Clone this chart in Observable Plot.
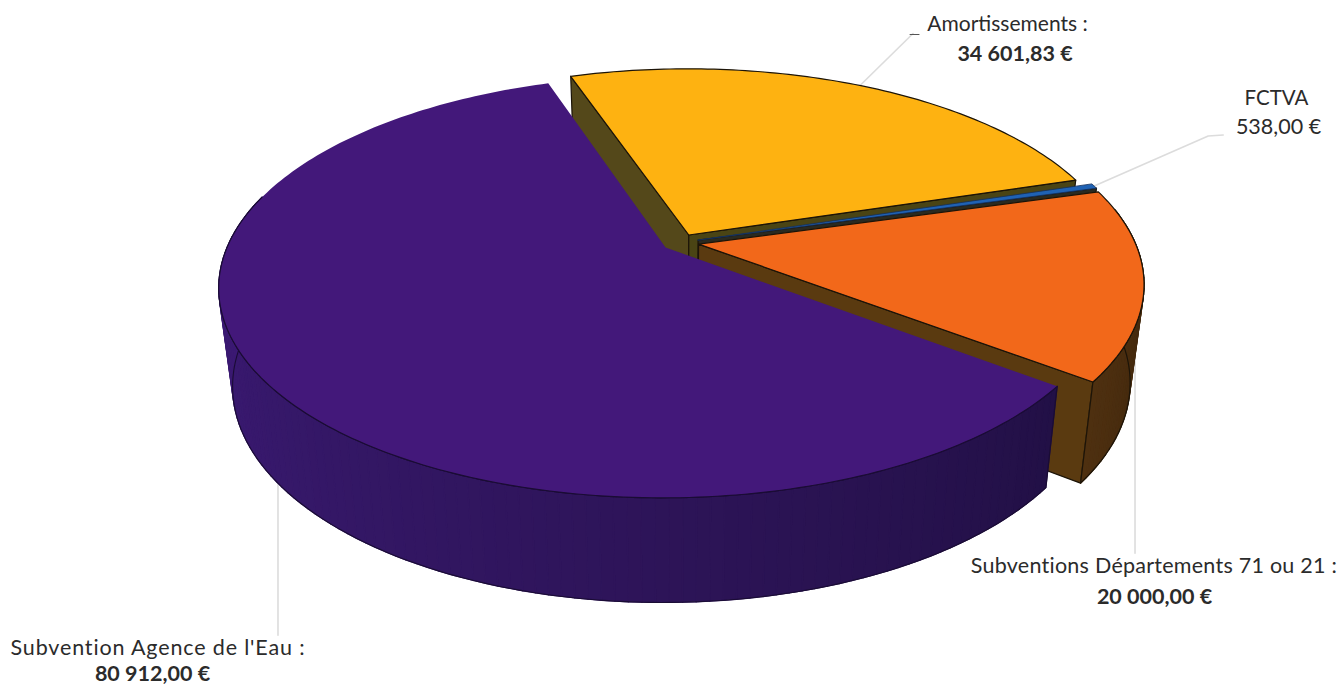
<!DOCTYPE html>
<html lang="fr">
<head>
<meta charset="utf-8">
<style>html,body{margin:0;padding:0;background:#fff}svg{display:block}</style>
<script src="https://cdn.jsdelivr.net/npm/d3@7"></script>
<script src="https://cdn.jsdelivr.net/npm/@observablehq/plot@0.6"></script>
</head>
<body>
<div id="chart"></div>
<script>
const categories = ["Amortissements", "FCTVA", "Subventions Départements 71 ou 21", "Subvention Agence de l'Eau"];
const values = [34601.83, 538.00, 20000.00, 80912.00];
const amounts = ["34 601,83 €", "538,00 €", "20 000,00 €", "80 912,00 €"];
const topColors = ["#feb211", "#1f62b4", "#f2681a", "#43187a"];

const W = 1343, H = 686;
// Perspective model of the tilted, exploded pie
const view = {cx: 680, cy: 242, a: 436.5, b: 202, k: 0.185, explode: 0.042, startDeg: -18.7,
  depthY: 97, depthB: 6, depthA: 0.97, radii: [0.985, 1, 1, 1]};
const rad = Math.PI / 180;
const total = d3.sum(values);
let acc = view.startDeg;
const slices = values.map((v, i) => {
  const start = acc, end = acc + v / total * 360; acc = end;
  const mid = (start + end) / 2 * rad;
  return {i, start, end, R: view.radii[i], eu: view.explode * Math.sin(mid), ev: -view.explode * Math.cos(mid)};
});
function P(s, deg, r, bottom) {
  const u = s.eu + r * s.R * Math.sin(deg * rad), v = s.ev - r * s.R * Math.cos(deg * rad);
  const p = 1 / (1 - view.k * v);
  return bottom
    ? {x: view.cx + view.a * view.depthA * u * p, y: view.cy + view.depthY + (view.b + view.depthB) * v * p}
    : {x: view.cx + view.a * u * p, y: view.cy + view.b * v * p};
}
function arc(s, a0, a1, bottom) {
  const n = Math.max(2, Math.ceil(Math.abs(a1 - a0) / 1));
  return d3.range(n + 1).map(j => P(s, a0 + (a1 - a0) * j / n, 1, bottom));
}
const topFace = s => [P(s, 0, 0), ...arc(s, s.start, s.end), P(s, 0, 0)];
const wall = (s, deg) => {
  const pts = [P(s, 0, 0), P(s, deg, 1), P(s, deg, 1, true), P(s, 0, 0, true)];
  return [...pts, pts[0]];
};
const outer = (s, a0, a1) => [...arc(s, a0, a1), ...arc(s, a1, a0, true), P(s, a0, 1)];
function shaded(s, a0, a1, stops) {
  const n = Math.ceil(Math.abs(a1 - a0) / 1.5), out = [], col = d3.piecewise(d3.interpolateRgb, stops);
  for (let j = 0; j < n; j++) {
    const p = a0 + (a1 - a0) * j / n, q = a0 + (a1 - a0) * (j + 1) / n;
    const color = col(j / (n - 1));
    [P(s, p, 1), P(s, q, 1), P(s, q, 1, true), P(s, p, 1, true), P(s, p, 1)]
      .forEach(pt => out.push({...pt, z: j, color}));
  }
  return out;
}
const scalesOpt = {x: "x", y: "y"};
const edge = "#1c1408";
const poly = (pts, fill, stroke = edge, strokeWidth = 1.2) =>
  Plot.line(pts, {...scalesOpt, fill, stroke, strokeWidth, curve: "linear", strokeLinejoin: "round"});
const strips = (pts) => Plot.line(pts, {...scalesOpt, z: "z", fill: "color", stroke: "color", strokeWidth: 1.3, curve: "linear"});

const [yel, fct, ora, pur] = slices;
const midDeg = s => (s.start + s.end) / 2;

// Leaders start on each slice's rim
const leader = (p0, ...steps) => [p0, ...steps.map(([dx, dy]) => ({x: p0.x + dx, y: p0.y + dy}))];
const yelRim = P(yel, midDeg(yel), 1), oraRim = P(ora, midDeg(ora), 1), purRim = P(pur, midDeg(pur), 1, true);
const leaders = [
  leader({x: yelRim.x + 6, y: yelRim.y}, [52, -51]),
  leader(P(fct, midDeg(fct), 1), [114, -50], [129, -51]),
  leader({x: oraRim.x - 9, y: oraRim.y}, [0, 95], [0, 270]),
  leader({x: purRim.x + 1, y: purRim.y}, [0, 100], [0, 153])
];
const tick = leader({x: yelRim.x + 55, y: yelRim.y - 50}, [9, 0]);
const font = "Lato, 'Open Sans', sans-serif";
const txt = (s, dx, dy, weight, size) => Plot.text([s], {
  text: d => d, frameAnchor: "top-left", dx, dy, textAnchor: "middle", lineAnchor: "middle",
  fontFamily: font, fontSize: size, fontWeight: weight, fill: "#2b2b2b"
});

const chart = Plot.plot({
  width: W, height: H, margin: 0,
  x: {axis: null, domain: [0, W], range: [0, W]},
  y: {axis: null, domain: [0, H], range: [0, H]},
  color: {type: "identity"},
  marks: [
    ...leaders.map(l => Plot.line(l, {...scalesOpt, stroke: "#dcdcdc", strokeWidth: 1.6})),
    Plot.line(tick, {...scalesOpt, stroke: "#555", strokeWidth: 1}),
    // yellow
    poly(wall(yel, yel.start), "#54481a"),
    poly(wall(yel, yel.end), "#4a4414"),
    poly(topFace(yel), topColors[0]),
    // FCTVA
    poly(wall(fct, fct.end), "#2a2a20"),
    poly(topFace(fct), topColors[1], "#14305c", 0.8),
    // orange
    poly(wall(ora, ora.end), "#5a3a10"),
    strips(shaded(ora, 80, ora.end, ["#36200a", "#4e3010"])),
    poly(outer(ora, 80, ora.end), "none"),
    poly(topFace(ora), topColors[2]),
    // purple
    strips(shaded(pur, 127.2, 285, ["#221046", "#2d1458", "#36186a", "#3e1a78"])),
    poly(outer(pur, 127.2, 285), "none", "#1a0c34", 1.1),
    poly(topFace(pur), topColors[3], "none"),
    Plot.line(arc(pur, 127.2, 285), {...scalesOpt, stroke: "#1a0c34", strokeWidth: 1.1}),
    // labels
    txt(categories[0] + " :", 1007, 24, 400, 21),
    txt(amounts[0], 1014.5, 54, 700, 21.5),
    txt(categories[1], 1276, 98, 400, 20.5),
    txt(amounts[1], 1278, 127, 400, 21.5),
    txt(categories[2] + " :", 1153.5, 566, 400, 21.5),
    txt(amounts[2], 1154, 597, 700, 21.5),
    txt(categories[3] + " :", 157.5, 648, 400, 21.5),
    txt(amounts[3], 152, 674, 700, 21.5)
  ]
});
d3.select(chart).selectAll("text")
  .filter(function () { return this.textContent.startsWith(categories[3]); }).style("letter-spacing", "0.85px");
d3.select(chart).selectAll("text")
  .filter(function () { return this.textContent.startsWith(categories[2]); }).style("letter-spacing", "0.25px");
document.getElementById("chart").append(chart);
</script>
</body>
</html>
